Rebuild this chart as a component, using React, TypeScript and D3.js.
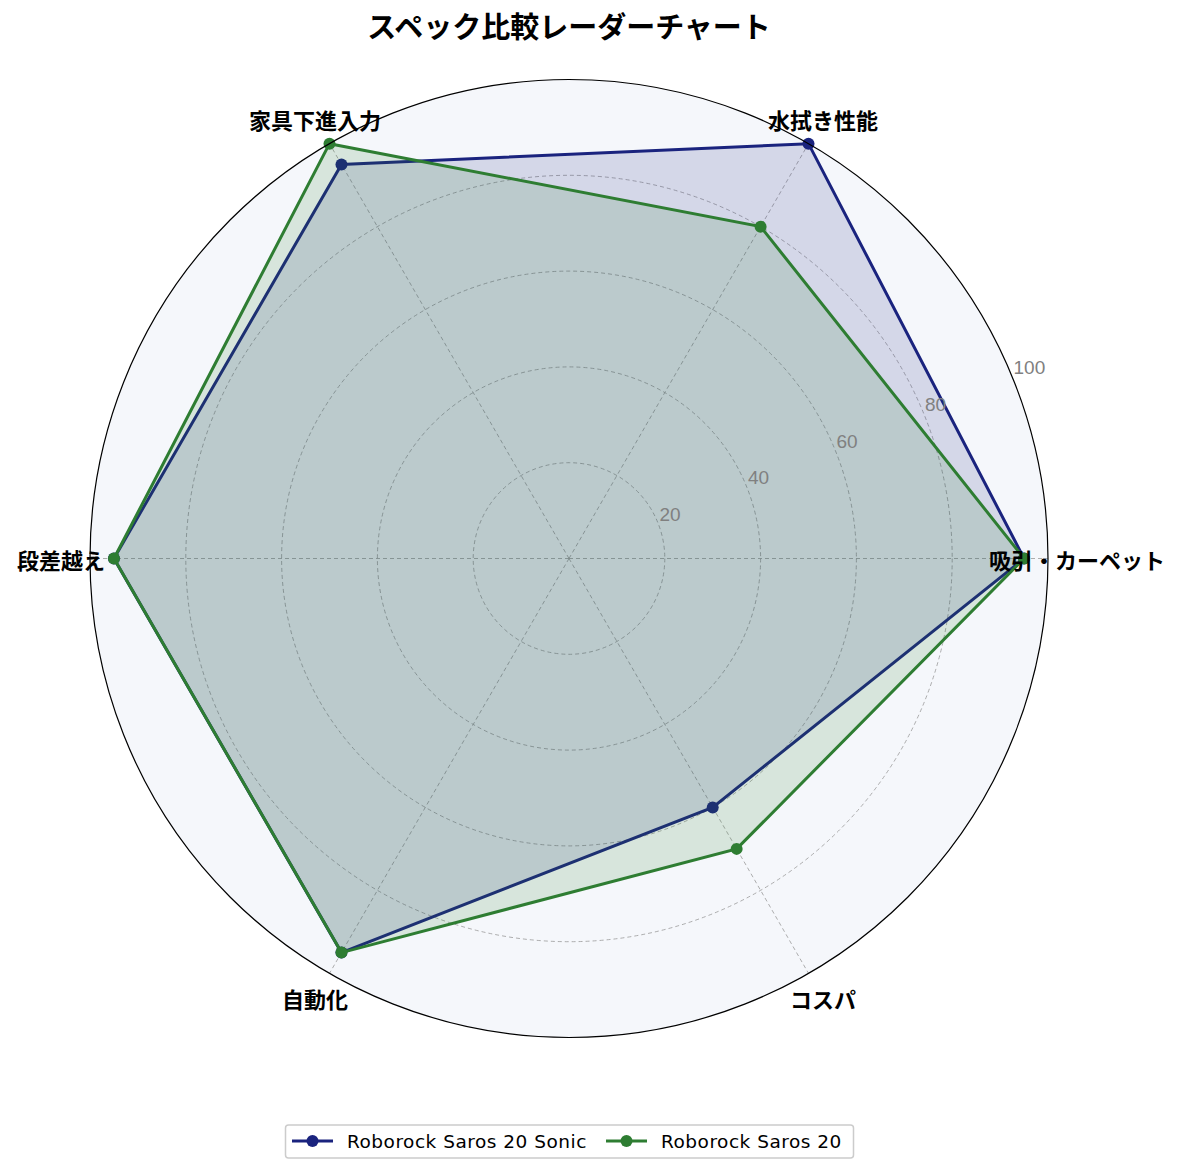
import React, { useEffect } from "react";
import * as d3 from "d3";

const categories = ["吸引・カーペット", "水拭き性能", "家具下進入力", "段差越え", "自動化", "コスパ"];
const sonicValues = [95, 100, 95, 95, 95, 60];
const saros20Values = [95, 80, 100, 95, 95, 70];
const seriesNames = ["Roborock Saros 20 Sonic", "Roborock Saros 20"];
const seriesColors = ["#1a237e", "#2e7d32"];
const rTicks = [20, 40, 60, 80, 100];

const W = 1184;
const H = 1174;
const CX = 569;
const CY = 558.5;
const R = 479;
const FONT = "'Noto Sans CJK JP', 'Noto Sans', sans-serif";
const LATIN = "'DejaVu Sans', sans-serif";

export default function App() {
  useEffect(() => {
    document.body.style.margin = "0";
  }, []);

  const r = d3.scaleLinear().domain([0, 100]).range([0, R]);
  const angle = d3
    .scaleLinear()
    .domain([0, categories.length])
    .range([0, 2 * Math.PI]);
  const pt = (i: number, v: number): [number, number] => {
    const a = angle(i);
    return [CX + r(v) * Math.cos(a), CY - r(v) * Math.sin(a)];
  };

  const series = [sonicValues, saros20Values];
  const lineGen = d3
    .line<[number, number]>()
    .x((d) => d[0])
    .y((d) => d[1])
    .curve(d3.curveLinearClosed);

  const rlabelAngle = (22.5 * Math.PI) / 180;
  const legendX = [292, 606];

  return (
    <svg width={W} height={H} style={{ display: "block" }} fontFamily={FONT}>
      <rect width={W} height={H} fill="#ffffff" />
      <text x={CX} y={38} textAnchor="middle" fontSize={29} fontWeight="bold" fill="#000">
        スペック比較レーダーチャート
      </text>
      <circle cx={CX} cy={CY} r={R} fill="#f5f7fb" />
      {rTicks.slice(0, -1).map((t) => (
        <circle
          key={t}
          cx={CX}
          cy={CY}
          r={r(t)}
          fill="none"
          stroke="#999"
          strokeWidth={0.8}
          strokeDasharray="4,3"
        />
      ))}
      {categories.map((c, i) => {
        const [x, y] = pt(i, 100);
        return (
          <line
            key={c}
            x1={CX}
            y1={CY}
            x2={x}
            y2={y}
            stroke="#999"
            strokeWidth={0.8}
            strokeDasharray="4,3"
          />
        );
      })}
      {series.map((vals, s) => {
        const pts = vals.map((v, i) => pt(i, v));
        return (
          <g key={s}>
            <path
              d={lineGen(pts) || ""}
              fill={seriesColors[s]}
              fillOpacity={0.15}
              stroke={seriesColors[s]}
              strokeWidth={3}
              strokeLinejoin="miter"
            />
            {pts.map((p, i) => (
              <circle key={i} cx={p[0]} cy={p[1]} r={6} fill={seriesColors[s]} />
            ))}
          </g>
        );
      })}
      <circle cx={CX} cy={CY} r={R} fill="none" stroke="#000" strokeWidth={1.2} />
      {rTicks.map((t) => (
        <text
          key={t}
          x={CX + r(t) * Math.cos(rlabelAngle) + 2}
          y={CY - r(t) * Math.sin(rlabelAngle) - 1}
          fontSize={19}
          fontFamily="'Liberation Sans', Arial, sans-serif"
          fill="#808080"
          textAnchor="start"
        >
          {t}
        </text>
      ))}
      {categories.map((c, i) => {
        const a = angle(i);
        const x = CX + 508 * Math.cos(a);
        const y = CY - 508 * Math.sin(a);
        return (
          <text
            key={c}
            x={x}
            y={y}
            textAnchor="middle"
            dominantBaseline="central"
            fontSize={22}
            fontWeight="bold"
            fill="#000"
          >
            {c}
          </text>
        );
      })}
      <g>
        <rect
          x={285.5}
          y={1125}
          width={568}
          height={33}
          rx={3}
          fill="#fff"
          stroke="#ccc"
          strokeWidth={1.5}
        />
        {seriesNames.map((n, s) => {
          const x0 = legendX[s];
          return (
            <g key={n}>
              <line x1={x0} x2={x0 + 41} y1={1141} y2={1141} stroke={seriesColors[s]} strokeWidth={3} />
              <circle cx={x0 + 20.5} cy={1141} r={6} fill={seriesColors[s]} />
              <text
                x={x0 + 55}
                y={1141}
                dominantBaseline="central"
                fontSize={18.5}
                letterSpacing={0.5}
                fontFamily={LATIN}
                fill="#000"
              >
                {n}
              </text>
            </g>
          );
        })}
      </g>
    </svg>
  );
}
